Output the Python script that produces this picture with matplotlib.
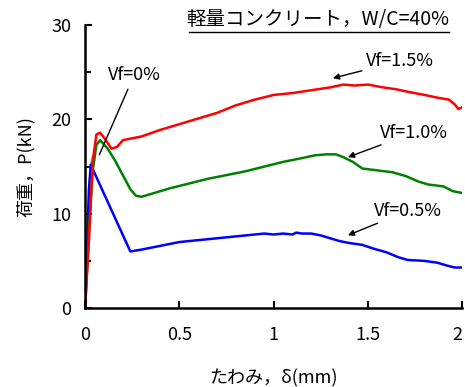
import numpy as np
import matplotlib.pyplot as plt
from matplotlib.ticker import MultipleLocator

plt.rcParams['font.family'] = ['Noto Sans CJK JP', 'DejaVu Sans']

#---------------------------------------------------------------
# data (deflection mm, load kN)
d0 = [0.0, 0.01, 0.02, 0.03, 0.04]
p0 = [0.0, 5.0, 11.0, 15.0, 16.0]

d05 = [0.0, 0.01, 0.02, 0.03, 0.24, 0.3, 0.4, 0.5, 0.6, 0.7, 0.8, 0.9, 0.95,
       1.0, 1.05, 1.1, 1.12, 1.15, 1.2, 1.25, 1.3, 1.35, 1.4, 1.47, 1.53,
       1.6, 1.66, 1.71, 1.8, 1.87, 1.92, 1.96, 2.0]
p05 = [0.0, 6.0, 12.5, 15.2, 6.0, 6.2, 6.6, 7.0, 7.2, 7.4, 7.6, 7.8, 7.9,
       7.8, 7.9, 7.8, 8.0, 7.9, 7.9, 7.7, 7.4, 7.1, 6.9, 6.7, 6.3,
       5.9, 5.4, 5.1, 5.0, 4.8, 4.5, 4.3, 4.3]

d10 = [0.0, 0.02, 0.04, 0.06, 0.08, 0.12, 0.16, 0.2, 0.24, 0.27, 0.3, 0.35,
       0.45, 0.55, 0.65, 0.75, 0.85, 0.95, 1.05, 1.15, 1.22, 1.28, 1.33, 1.37,
       1.42, 1.47, 1.55, 1.63, 1.7, 1.77, 1.82, 1.9, 1.95, 2.0]
p10 = [0.0, 8.0, 14.5, 17.3, 17.8, 16.9, 15.6, 14.1, 12.6, 11.9, 11.8, 12.1,
       12.7, 13.2, 13.7, 14.1, 14.5, 15.0, 15.5, 15.9, 16.2, 16.3, 16.3, 16.0,
       15.5, 14.8, 14.6, 14.4, 14.0, 13.4, 13.1, 12.9, 12.4, 12.2]

d15 = [0.0, 0.02, 0.04, 0.06, 0.08, 0.11, 0.14, 0.17, 0.2, 0.3, 0.4, 0.5,
       0.6, 0.7, 0.8, 0.9, 1.0, 1.1, 1.2, 1.3, 1.37, 1.43, 1.5, 1.58, 1.65,
       1.72, 1.8, 1.87, 1.93, 1.96, 1.98, 2.0]
p15 = [0.0, 7.0, 15.5, 18.4, 18.6, 17.8, 16.9, 17.1, 17.8, 18.2, 18.9, 19.5,
       20.1, 20.7, 21.5, 22.1, 22.6, 22.8, 23.1, 23.4, 23.7, 23.6, 23.7, 23.4,
       23.2, 22.9, 22.6, 22.3, 22.1, 21.6, 21.1, 21.3]

#---------------------------------------------------------------
fig = plt.figure(figsize=(4.65, 3.87), dpi=100)
ax = fig.add_axes([0.183, 0.204, 0.811, 0.731])

ax.plot(d0, p0, color='#a0a0a0', lw=1.8)
ax.plot(d05, p05, color='#0000ff', lw=1.8)
ax.plot(d10, p10, color='#008000', lw=1.8)
ax.plot(d15, p15, color='#ff0000', lw=1.8)

ax.set_xlim(0, 2)
ax.set_ylim(0, 30)
ax.yaxis.set_major_locator(MultipleLocator(10))
ax.yaxis.set_minor_locator(MultipleLocator(5))
ax.set_xticks([0, 0.5, 1, 1.5, 2])
ax.set_xticklabels(['0', '0.5', '1', '1.5', '2'])
ax.get_xticklabels()[-1].set_ha('right')   # keep the last label inside the figure

for s in ['top', 'right']:
    ax.spines[s].set_visible(False)
for s in ['left', 'bottom']:
    ax.spines[s].set_linewidth(1.8)

ax.tick_params(axis='both', which='major', direction='in', length=5, width=1.5,
               labelsize=13)
ax.tick_params(axis='x', pad=13)
ax.tick_params(axis='y', pad=10)
ax.tick_params(axis='y', which='minor', direction='in', length=4, width=1.5)

ax.set_xlabel('たわみ，δ(mm)', fontsize=13, labelpad=18)
ax.set_ylabel('荷重，P(kN)', fontsize=13, labelpad=12)

ax.text(1.93, 29.45, '軽量コンクリート，W/C=40%', fontsize=14, ha='right', va='bottom')
ax.plot([0.55, 1.93], [29.25, 29.25], color='black', lw=1, clip_on=False)

arr = dict(arrowstyle='-|>', color='black', lw=1, mutation_scale=9, shrinkA=1)
ax.annotate('Vf=0%', xy=(0.07, 16.0), xytext=(0.12, 24.2), fontsize=13,
            arrowprops=dict(arrowstyle='-', color='black', lw=1))
ax.annotate('Vf=1.5%', xy=(1.3, 24.3), xytext=(1.49, 26.2), fontsize=13,
            arrowprops=arr, va='center')
ax.annotate('Vf=1.0%', xy=(1.38, 15.9), xytext=(1.565, 18.6), fontsize=13,
            arrowprops=arr, va='center')
ax.annotate('Vf=0.5%', xy=(1.38, 7.6), xytext=(1.53, 10.3), fontsize=13,
            arrowprops=arr, va='center')

fig.savefig('out.png', dpi=100)
